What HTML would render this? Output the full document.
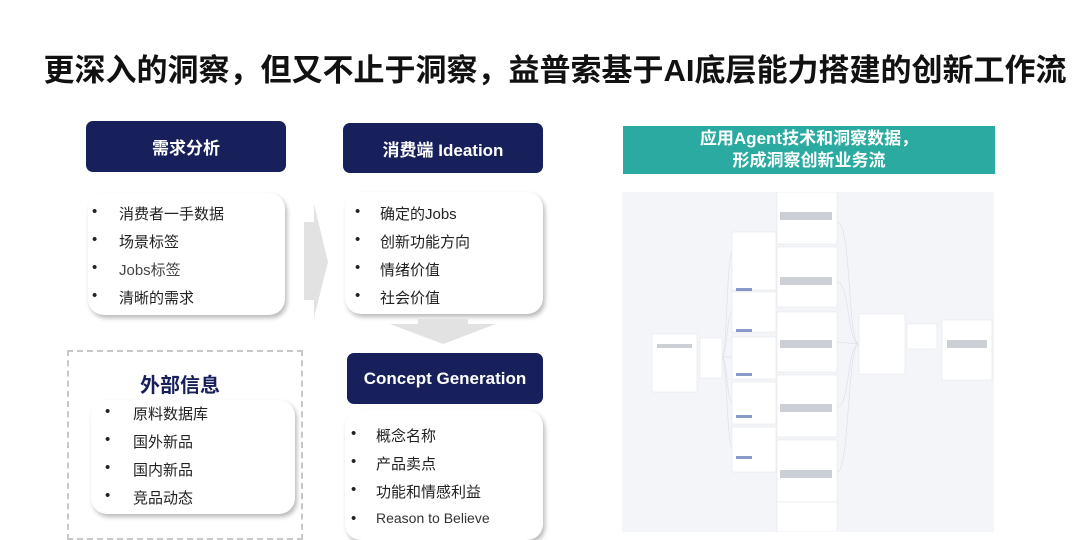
<!DOCTYPE html>
<html><head><meta charset="utf-8"><style>
body{margin:0;width:1080px;height:534px;background:#fff;position:relative;overflow:hidden;font-family:"Liberation Sans","Noto Sans CJK SC",sans-serif;}
.a{position:absolute;}
.title{left:38px;width:1034px;top:45px;text-align:center;font-size:31px;font-weight:bold;color:#111;white-space:nowrap;}
.hd{background:#17205a;color:#fff;border-radius:7px;font-weight:bold;font-size:17px;display:flex;align-items:center;justify-content:center;}
.lst{background:#fff;border-radius:16px;box-shadow:2px 3px 5px rgba(0,0,0,0.28);font-size:15px;color:#222;}
.lst div{position:absolute;left:0;}
</style></head><body>
<div class="a title">更深入的洞察，但又不止于洞察，益普索基于AI底层能力搭建的创新工作流</div>

<div class="a hd" style="left:86px;top:121px;width:200px;height:51px;">需求分析</div>
<div class="a lst" style="left:88px;top:193px;width:197px;height:122px;">
<div style="left:4px;top:10px;">•</div><div style="left:31px;top:10px;">消费者一手数据</div>
<div style="left:4px;top:38px;">•</div><div style="left:31px;top:38px;">场景标签</div>
<div style="left:4px;top:66px;">•</div><div style="left:31px;top:66px;color:#444">Jobs标签</div>
<div style="left:4px;top:94px;">•</div><div style="left:31px;top:94px;">清晰的需求</div>
</div>

<svg class="a" style="left:300px;top:200px" width="32" height="120"><polygon points="4,22 14,22 14,4 28,62 14,118 14,100 4,100" fill="#e2e2e2"/></svg>

<div class="a hd" style="left:343px;top:123px;width:200px;height:50px;">消费端 Ideation</div>
<div class="a lst" style="left:345px;top:192px;width:198px;height:122px;">
<div style="left:10px;top:11px;">•</div><div style="left:35px;top:11px;">确定的Jobs</div>
<div style="left:10px;top:39px;">•</div><div style="left:35px;top:39px;">创新功能方向</div>
<div style="left:10px;top:67px;">•</div><div style="left:35px;top:67px;">情绪价值</div>
<div style="left:10px;top:95px;">•</div><div style="left:35px;top:95px;">社会价值</div>
</div>

<svg class="a" style="left:388px;top:318px" width="110" height="28"><polygon points="2,6 30,6 30,1 80,1 80,6 108,6 55,26" fill="#e2e2e2"/></svg>

<div class="a" style="left:67px;top:350px;width:236px;height:190px;border:2px dashed #c8c8c8;box-sizing:border-box;"></div>
<div class="a" style="left:140px;top:369px;font-size:20px;font-weight:bold;color:#17205a;">外部信息</div>
<div class="a lst" style="left:91px;top:400px;width:204px;height:114px;">
<div style="left:14px;top:3px;">•</div><div style="left:42px;top:3px;">原料数据库</div>
<div style="left:14px;top:31px;">•</div><div style="left:42px;top:31px;">国外新品</div>
<div style="left:14px;top:59px;">•</div><div style="left:42px;top:59px;">国内新品</div>
<div style="left:14px;top:87px;">•</div><div style="left:42px;top:87px;">竞品动态</div>
</div>

<div class="a hd" style="left:347px;top:353px;width:196px;height:51px;">Concept Generation</div>
<div class="a lst" style="left:345px;top:410px;width:198px;height:130px;">
<div style="left:6px;top:15px;">•</div><div style="left:31px;top:15px;">概念名称</div>
<div style="left:6px;top:43px;">•</div><div style="left:31px;top:43px;">产品卖点</div>
<div style="left:6px;top:71px;">•</div><div style="left:31px;top:71px;">功能和情感利益</div>
<div style="left:6px;top:100px;">•</div><div style="left:31px;top:100px;font-size:14px;color:#333">Reason to Believe</div>
</div>

<div class="a" style="left:623px;top:126px;width:372px;height:48px;background:#2aaaa0;color:#fff;font-weight:bold;font-size:17px;text-align:center;line-height:22px;padding-top:2px;box-sizing:border-box;">应用Agent技术和洞察数据，<br>形成洞察创新业务流</div>

<div class="a" style="left:622px;top:192px;width:372px;height:340px;background:#f3f5f8;"></div>
<svg class="a" style="left:622px;top:192px" width="372" height="340">
<g fill="#fff" stroke="#e4e7ec" stroke-width="0.6">
<rect x="30" y="142" width="45" height="58"/>
<rect x="78" y="146" width="22" height="40"/>
<rect x="110" y="40" width="44" height="58"/>
<rect x="110" y="100" width="44" height="40"/>
<rect x="110" y="145" width="44" height="42"/>
<rect x="110" y="190" width="44" height="42"/>
<rect x="110" y="235" width="44" height="45"/>
<rect x="155" y="0" width="60" height="52"/>
<rect x="155" y="55" width="60" height="60"/>
<rect x="155" y="120" width="60" height="60"/>
<rect x="155" y="183" width="60" height="62"/>
<rect x="155" y="248" width="60" height="62"/>
<rect x="155" y="310" width="60" height="30"/>
<rect x="237" y="122" width="46" height="60"/>
<rect x="285" y="132" width="30" height="25"/>
<rect x="320" y="128" width="50" height="60"/>
</g>
<g fill="#3b5aa8" opacity="0.6">
<rect x="114" y="96" width="16" height="3"/><rect x="114" y="137" width="16" height="3"/>
<rect x="114" y="181" width="16" height="3"/><rect x="114" y="223" width="16" height="3"/><rect x="114" y="264" width="16" height="3"/>
</g>
<g fill="#ccd0d6">
<rect x="158" y="20" width="52" height="8"/><rect x="158" y="85" width="52" height="8"/><rect x="158" y="148" width="52" height="8"/>
<rect x="158" y="212" width="52" height="8"/><rect x="158" y="278" width="52" height="8"/><rect x="325" y="148" width="40" height="8"/>
<rect x="35" y="152" width="35" height="4"/>
</g>
<g stroke="#dde1e7" fill="none" stroke-width="0.7">
<path d="M100 165 C105 165 105 60 110 60 M100 165 C105 165 105 120 110 120 M100 165 L110 165 M100 165 C105 165 105 210 110 210 M100 165 C105 165 105 255 110 255"/>
<path d="M215 30 C230 30 225 152 237 152 M215 90 C228 90 225 152 237 152 M215 150 L237 152 M215 215 C228 215 225 152 237 152 M215 280 C228 280 225 152 237 152"/>
</g>
</svg>
</body></html>
